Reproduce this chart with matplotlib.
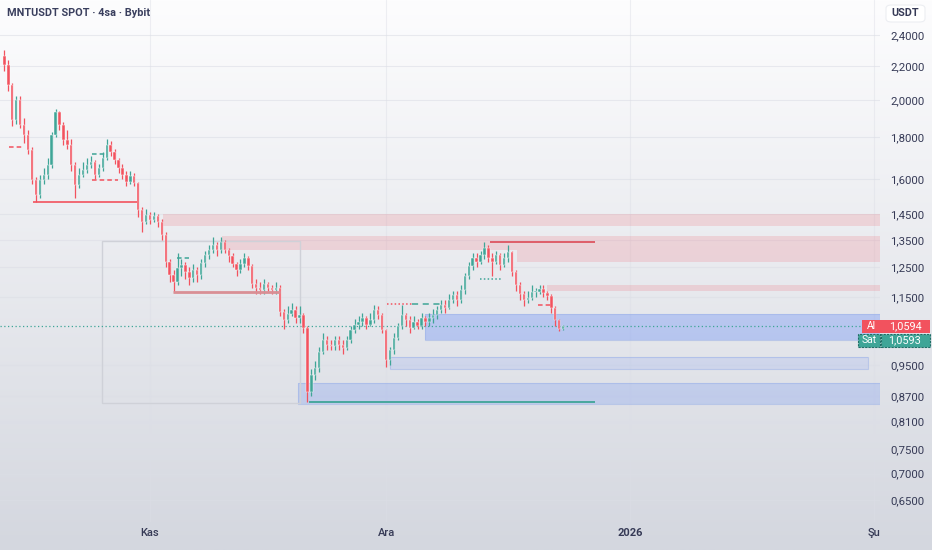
import matplotlib
matplotlib.use('Agg')
import matplotlib.pyplot as plt
import matplotlib.dates as mdates
from matplotlib.patches import Rectangle, FancyBboxPatch
import numpy as np
from datetime import datetime, timedelta

plt.rcParams['font.family'] = ['Roboto', 'DejaVu Sans']

# ---------------- data ----------------
title = "MNTUSDT SPOT · 4sa · Bybit"
currency = "USDT"

first_open = 2.26
closes = [2.206, 2.086, 1.890, 1.999, 1.864, 1.812, 1.737, 1.597, 1.531, 1.597,
          1.620, 1.666, 1.812, 1.933, 1.864, 1.787, 1.762, 1.666, 1.575, 1.620,
          1.643, 1.666, 1.680, 1.620, 1.652, 1.699, 1.762, 1.727, 1.689, 1.652,
          1.620, 1.588, 1.615, 1.584, 1.468, 1.419, 1.447, 1.427, 1.443, 1.419,
          1.368, 1.269, 1.223, 1.199, 1.247, 1.258, 1.233, 1.213, 1.240, 1.223,
          1.265, 1.294, 1.312, 1.330, 1.312, 1.342, 1.312, 1.290, 1.262, 1.240,
          1.262, 1.283, 1.254, 1.193, 1.180, 1.173, 1.193, 1.180, 1.173, 1.180,
          1.103, 1.078, 1.097, 1.109, 1.084, 1.093, 1.054, 0.880, 0.924, 0.942,
          0.985, 1.019, 1.005, 1.002, 1.019, 1.005, 0.996, 1.019, 1.048, 1.063,
          1.072, 1.084, 1.063, 1.078, 1.109, 1.093, 1.048, 0.963, 0.991, 1.025,
          1.060, 1.093, 1.078, 1.054, 1.072, 1.060, 1.084, 1.072, 1.084, 1.093,
          1.109, 1.125, 1.115, 1.140, 1.157, 1.140, 1.173, 1.219, 1.254, 1.283,
          1.269, 1.294, 1.319, 1.283, 1.269, 1.294, 1.258, 1.283, 1.305, 1.233,
          1.190, 1.160, 1.140, 1.147, 1.167, 1.167, 1.177, 1.163, 1.153, 1.115,
          1.078, 1.052, 1.0594]
highs = [2.30, 2.24, 2.10, 2.02, 2.02, 1.90, 1.84, 1.75, 1.61, 1.62,
         1.65, 1.70, 1.83, 1.95, 1.94, 1.88, 1.84, 1.79, 1.68, 1.65,
         1.68, 1.70, 1.71, 1.69, 1.67, 1.73, 1.79, 1.78, 1.74, 1.70,
         1.67, 1.64, 1.64, 1.63, 1.59, 1.48, 1.47, 1.46, 1.46, 1.45,
         1.43, 1.38, 1.28, 1.24, 1.30, 1.28, 1.27, 1.25, 1.26, 1.25,
         1.28, 1.31, 1.33, 1.36, 1.34, 1.36, 1.35, 1.32, 1.30, 1.27,
         1.28, 1.30, 1.29, 1.26, 1.21, 1.20, 1.21, 1.20, 1.19, 1.20,
         1.19, 1.11, 1.12, 1.13, 1.12, 1.12, 1.10, 1.06, 0.94, 0.96,
         1.00, 1.04, 1.03, 1.02, 1.03, 1.03, 1.02, 1.03, 1.06, 1.08,
         1.09, 1.10, 1.09, 1.10, 1.125, 1.12, 1.10, 1.05, 1.00, 1.04,
         1.07, 1.125, 1.10, 1.09, 1.09, 1.08, 1.10, 1.09, 1.10, 1.11,
         1.12, 1.14, 1.14, 1.16, 1.17, 1.17, 1.19, 1.23, 1.27, 1.30,
         1.30, 1.31, 1.342, 1.33, 1.30, 1.31, 1.30, 1.30, 1.33, 1.31,
         1.24, 1.20, 1.17, 1.17, 1.19, 1.18, 1.19, 1.19, 1.17, 1.16,
         1.12, 1.08, 1.064]
lows = [2.17, 2.05, 1.86, 1.87, 1.85, 1.77, 1.72, 1.58, 1.50, 1.52,
        1.58, 1.60, 1.65, 1.80, 1.84, 1.76, 1.74, 1.64, 1.52, 1.56,
        1.61, 1.63, 1.65, 1.60, 1.61, 1.64, 1.69, 1.71, 1.67, 1.63,
        1.60, 1.57, 1.58, 1.57, 1.44, 1.38, 1.41, 1.41, 1.42, 1.40,
        1.35, 1.25, 1.20, 1.166, 1.19, 1.22, 1.21, 1.19, 1.20, 1.20,
        1.21, 1.25, 1.28, 1.30, 1.29, 1.30, 1.30, 1.27, 1.25, 1.22,
        1.23, 1.25, 1.24, 1.18, 1.16, 1.16, 1.16, 1.17, 1.16, 1.16,
        1.09, 1.05, 1.07, 1.09, 1.07, 1.07, 1.04, 0.856, 0.87, 0.91,
        0.93, 0.98, 0.99, 0.99, 0.99, 0.99, 0.98, 0.99, 1.01, 1.04,
        1.05, 1.06, 1.05, 1.06, 1.07, 1.08, 1.04, 0.945, 0.95, 0.98,
        1.02, 1.05, 1.06, 1.04, 1.05, 1.05, 1.05, 1.06, 1.06, 1.07,
        1.08, 1.10, 1.10, 1.11, 1.13, 1.12, 1.13, 1.16, 1.21, 1.24,
        1.25, 1.26, 1.28, 1.27, 1.22, 1.26, 1.24, 1.25, 1.27, 1.22,
        1.17, 1.14, 1.12, 1.13, 1.14, 1.15, 1.16, 1.15, 1.14, 1.10,
        1.06, 1.045, 1.048]

candle_start = datetime(2025, 10, 13, 12)
candle_hours = 12

ytick_vals = [2.4, 2.2, 2.0, 1.8, 1.6, 1.45, 1.35, 1.25, 1.15, 0.95, 0.87, 0.81, 0.75, 0.70, 0.65]
ytick_labels = ["2,4000", "2,2000", "2,0000", "1,8000", "1,6000", "1,4500", "1,3500", "1,2500",
                "1,1500", "0,9500", "0,8700", "0,8100", "0,7500", "0,7000", "0,6500"]
xtick_dates = [datetime(2025, 11, 1), datetime(2025, 12, 1), datetime(2026, 1, 1), datetime(2026, 2, 1)]
xtick_labels = ["Kas", "Ara", "2026", "Şu"]

x_left = datetime(2025, 10, 12, 22, 34)
x_right = datetime(2026, 2, 1, 18, 14)
y_low, y_high = 0.611, 2.648

ask_price, bid_price = 1.0594, 1.0593
ask_label, bid_label = "Al", "Sat"

# zones: (start, end, low, high)
supply_zones = [
    (datetime(2025, 11, 2, 16), x_right, 1.404, 1.452),
    (datetime(2025, 11, 10, 4), x_right, 1.312, 1.365),
    (datetime(2025, 12, 17, 15), x_right, 1.269, 1.312),
    (datetime(2025, 12, 21, 10), x_right, 1.169, 1.189),
]
demand_zones = [
    (datetime(2025, 12, 5, 22, 30), x_right, 1.019, 1.096, 0.24),
    (datetime(2025, 12, 1, 12), datetime(2026, 1, 31, 6), 0.939, 0.971, 0.10),
    (datetime(2025, 11, 19, 19, 30), x_right, 0.851, 0.903, 0.16),
]
# solid level lines: (start, end, price, color, width)
level_lines = [
    (datetime(2025, 10, 17, 3), datetime(2025, 10, 30, 8, 30), 1.502, '#f2525e', 1.2),
    (datetime(2025, 11, 3, 22), datetime(2025, 11, 17, 12, 30), 1.166, '#d98f95', 2.0),
    (datetime(2025, 11, 21, 5), datetime(2025, 12, 27, 13), 0.856, '#3fa597', 1.3),
    (datetime(2025, 12, 14, 5), datetime(2025, 12, 27, 13), 1.342, '#dc4a56', 1.2),
]
# dashed / dotted short lines: (start, end, price, color, style)
short_lines = [
    (datetime(2025, 10, 14, 2), datetime(2025, 10, 15, 21), 1.750, '#f2525e', (0, (3, 2))),
    (datetime(2025, 10, 24, 15), datetime(2025, 10, 26, 7), 1.720, '#3fa597', (0, (3, 2))),
    (datetime(2025, 10, 24, 15), datetime(2025, 10, 27, 22), 1.597, '#f2525e', (0, (3, 2))),
    (datetime(2025, 11, 4, 10), datetime(2025, 11, 6, 0), 1.283, '#3fa597', (0, (3, 2))),
    (datetime(2025, 12, 1, 3), datetime(2025, 12, 4, 7), 1.127, '#f2525e', (0, (1, 1.5))),
    (datetime(2025, 12, 4, 7), datetime(2025, 12, 7, 20), 1.127, '#3fa597', (0, (4, 3))),
    (datetime(2025, 12, 12, 22), datetime(2025, 12, 15, 17), 1.209, '#3fa597', (0, (1, 1.5))),
    (datetime(2025, 12, 20, 7), datetime(2025, 12, 22, 5), 1.125, '#f2525e', (0, (3, 2))),
]
range_box = (datetime(2025, 10, 25, 22), datetime(2025, 11, 20, 1, 30), 0.854, 1.346)

up_color = '#3fa597'
down_color = '#f2525e'
text_color = '#363a56'

# ---------------- figure ----------------
W, H = 932, 550
fig = plt.figure(figsize=(W / 100, H / 100), dpi=100)

bg = fig.add_axes([0, 0, 1, 1], zorder=0)
top = np.array([253, 253, 254]) / 255.0
bot = np.array([212, 215, 223]) / 255.0
t = np.linspace(0, 1, 256)[:, None, None]
grad = top * (1 - t) + bot * t
grad = np.repeat(grad, 2, axis=1)
bg.imshow(grad, aspect='auto', extent=[0, 1, 0, 1], origin='upper')
bg.axis('off')

ax = fig.add_axes([0, 28 / H, 880 / W, 522 / H], zorder=1)
ax.patch.set_alpha(0)
ax.set_yscale('log')
ax.set_xlim(mdates.date2num(x_left), mdates.date2num(x_right))
ax.set_ylim(y_low, y_high)
for s in ax.spines.values():
    s.set_visible(False)

# grid
for v in ytick_vals:
    ax.axhline(v, color='#dcdee6', lw=0.8, alpha=0.6, zorder=0)
for d in xtick_dates:
    ax.axvline(mdates.date2num(d), color='#dcdee6', lw=0.8, alpha=0.45, zorder=0)

# ticks
ax.yaxis.tick_right()
ax.set_yticks(ytick_vals)
ax.set_yticklabels(ytick_labels)
ax.yaxis.set_minor_locator(matplotlib.ticker.NullLocator())
ax.tick_params(axis='y', length=0, pad=7.5, labelsize=8.2, labelcolor=text_color)
ax.set_xticks([])

for d, lab in zip(xtick_dates, xtick_labels):
    ax.text(mdates.date2num(d), -11 / 522, lab, transform=ax.get_xaxis_transform(),
            ha='center', va='center', fontsize=8, color=text_color,
            fontweight='bold' if lab.isdigit() else 'medium')

# zones
for s, e, lo, hi in supply_zones:
    x0 = mdates.date2num(s)
    ax.add_patch(Rectangle((x0, lo), mdates.date2num(e) - x0, hi - lo,
                           facecolor='#f23645', alpha=0.14, lw=0, zorder=1))
for s, e, lo, hi, a in demand_zones:
    x0 = mdates.date2num(s)
    ax.add_patch(Rectangle((x0, lo), mdates.date2num(e) - x0, hi - lo,
                           facecolor='#2962ff', alpha=a, lw=0, zorder=1))
    ax.add_patch(Rectangle((x0, lo), mdates.date2num(e) - x0, hi - lo,
                           facecolor='none', edgecolor='#9fb4e8', lw=0.8, alpha=0.6, zorder=1))

x0 = mdates.date2num(range_box[0])
ax.add_patch(Rectangle((x0, range_box[2]), mdates.date2num(range_box[1]) - x0,
                       range_box[3] - range_box[2], facecolor='none',
                       edgecolor='#cfd1d8', lw=1.0, zorder=1))

# current price line
ax.axhline(ask_price, color='#3fa597', lw=0.9, ls=(0, (1, 2)), zorder=2)

# candles
times = [candle_start + timedelta(hours=candle_hours * i) for i in range(len(closes))]
tn = mdates.date2num(times)
opens = [first_open] + closes[:-1]
body_w = 0.30
for x, o, h, l, c in zip(tn, opens, highs, lows, closes):
    col = up_color if c >= o else down_color
    ax.vlines(x, l, h, color=col, lw=0.9, zorder=3)
    lo_b, hi_b = min(o, c), max(o, c)
    if hi_b / lo_b < 1.003:
        hi_b = lo_b * 1.003
    ax.add_patch(Rectangle((x - body_w / 2, lo_b), body_w, hi_b - lo_b,
                           facecolor=col, edgecolor='white', lw=0.3, zorder=4))

# level lines
for s, e, p, col, lw in level_lines:
    ax.hlines(p, mdates.date2num(s), mdates.date2num(e), color=col, lw=lw, zorder=5)
for s, e, p, col, ls in short_lines:
    ax.hlines(p, mdates.date2num(s), mdates.date2num(e), color=col, lw=1.1, ls=ls, zorder=5)

# ---------------- header / labels ----------------
fig.text(7 / W, 1 - 13 / H, title, ha='left', va='center', fontsize=7.8,
         color='#3a3f5e', fontweight='bold')

fig.patches.append(FancyBboxPatch((886 / W, 1 - 22 / H), 39 / W, 17 / H,
                                  boxstyle='round,pad=0,rounding_size=0.006',
                                  transform=fig.transFigure, facecolor='white',
                                  edgecolor='#eceef2', lw=0.8, zorder=5))
fig.text(905.5 / W, 1 - 13.5 / H, currency, ha='center', va='center', fontsize=7.8,
         color=text_color, fontweight='bold', zorder=6)

fig.canvas.draw()
inv = fig.transFigure.inverted()
_, y_ask = inv.transform(ax.transData.transform((mdates.date2num(x_right), ask_price)))
lh = 13 / H
# ask
fig.patches.append(Rectangle((862 / W, y_ask - lh / 2), 18 / W, lh, transform=fig.transFigure,
                             facecolor='#f2525e', lw=0, zorder=5))
fig.patches.append(Rectangle((880 / W, y_ask - lh / 2), 50 / W, lh, transform=fig.transFigure,
                             facecolor='#f2525e', lw=0, zorder=5))
fig.text(871 / W, y_ask, ask_label, ha='center', va='center', fontsize=7.5, color='white', zorder=6)
fig.text(905 / W, y_ask, "1,0594", ha='center', va='center', fontsize=7.8, color='white', zorder=6)
# bid
y_bid = y_ask - lh - 1 / H
fig.patches.append(Rectangle((858 / W, y_bid - lh / 2), 22 / W, lh, transform=fig.transFigure,
                             facecolor='#3fa597', edgecolor='#1f6f66', lw=0.8, ls=(0, (2, 1)), zorder=5))
fig.patches.append(Rectangle((880.5 / W, y_bid - lh / 2), 49 / W, lh, transform=fig.transFigure,
                             facecolor='#3fa597', edgecolor='#1f6f66', lw=0.8, ls=(0, (2, 1)), zorder=5))
fig.text(869 / W, y_bid, bid_label, ha='center', va='center', fontsize=7.5, color='white', zorder=6)
fig.text(905 / W, y_bid, "1,0593", ha='center', va='center', fontsize=7.8, color='white', zorder=6)

fig.savefig('out.png', dpi=100)
